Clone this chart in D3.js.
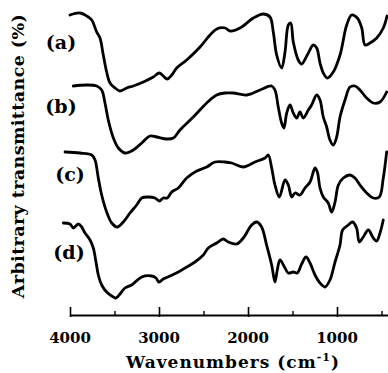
<!DOCTYPE html>
<html><head><meta charset="utf-8">
<script src="https://cdn.jsdelivr.net/npm/d3@7"></script>
<style>body{margin:0;background:#fff}svg{display:block}</style>
</head><body>
<script>
// wavenumber (cm-1), arbitrary transmittance (offset curves)
const waveA = [4000,3888,3812,3756,3700,3663,3626,3588,3551,3494,3438,3363,3289,3176,3064,2997,2952,2907,2857,2801,2689,2539,2427,2352,2258,2202,2090,1940,1828,1753,1716,1678,1622,1584,1547,1520,1491,1435,1397,1334,1266,1228,1191,1154,1109,1042,966,891,835,772,722,685,629,554,480,438];
const transA = [299,301,298,294,282,276,259,242,231,226,223,226,228,232,237,241,238,235,239,246,254,267,279,285,286,283,286,296,300,297,282,259,246,262,289,291,272,254,250,259,269,266,251,241,236,242,259,289,299,296,286,269,271,276,286,298];
const waveB = [3963,3812,3700,3644,3607,3570,3513,3457,3382,3289,3194,3101,3026,2913,2839,2764,2615,2464,2352,2258,2165,2015,1865,1734,1697,1660,1622,1596,1565,1528,1491,1453,1416,1379,1322,1285,1228,1191,1154,1116,1079,1042,1004,966,910,854,798,742,667,592,517,442];
const transB = [228,229,228,224,211,194,176,166,161,164,171,178,177,175,176,184,197,211,219,221,221,219,224,228,224,207,191,186,201,209,201,196,202,196,204,209,219,214,197,187,174,169,177,197,214,227,228,224,216,211,212,222];
const waveC = [4056,3888,3756,3719,3682,3644,3588,3531,3469,3401,3326,3251,3194,3120,3045,2997,2952,2907,2857,2783,2689,2576,2464,2371,2258,2183,2053,1921,1809,1772,1734,1697,1648,1584,1547,1509,1472,1416,1360,1303,1247,1221,1191,1154,1098,1060,1022,985,929,854,798,742,667,592,525,480,442];
const transC = [162,161,159,154,136,119,102,91,87,92,101,109,116,117,116,113,116,116,122,126,136,143,147,152,152,151,147,152,156,159,146,129,117,134,129,117,121,119,126,132,146,142,126,117,111,102,112,129,136,139,136,129,121,116,117,136,162];
const waveD = [4075,4000,3963,3907,3869,3831,3775,3738,3708,3682,3644,3588,3531,3483,3438,3382,3307,3194,3082,3034,3000,2952,2876,2783,2689,2596,2502,2446,2352,2278,2222,2127,2053,1959,1903,1847,1791,1734,1697,1671,1640,1584,1547,1491,1446,1397,1348,1303,1247,1191,1135,1079,1022,966,937,873,825,780,749,705,648,592,554,517,480];
const transD = [91,90,86,90,87,81,74,66,52,39,29,22,18,16,20,26,29,37,38,36,32,35,38,42,47,52,59,66,71,75,72,70,76,89,92,87,69,49,32,44,54,46,41,42,41,50,57,51,39,31,27,34,52,69,84,89,92,86,72,77,84,76,73,81,94];
const seriesLabels = ["(a)","(b)","(c)","(d)"];
const majorTicks = [4000,3000,2000,1000];
const minorTicks = [3500,2500,1500,500];
const xTitle = "Wavenumbers (cm";
const yTitle = "Arbitrary transmittance (%)";

const W = 388, H = 373;
const svg = d3.select("body").append("svg").attr("width", W).attr("height", H);
const x = d3.scaleLinear().domain([4000, 400]).range([70, 390.4]);
const y = d3.scaleLinear().domain([0, 314]).range([314, 0]);

const series = [[waveA, transA],[waveB, transB],[waveC, transC],[waveD, transD]];
const line = d3.line().x(d => x(d[0])).y(d => y(d[1])).curve(d3.curveCatmullRom.alpha(0.5));
series.forEach(([w, t]) => {
  svg.append("path").datum(w.map((v, i) => [v, t[i]]))
    .attr("d", line).attr("fill", "none").attr("stroke", "#000")
    .attr("stroke-width", 2.8).attr("stroke-linejoin", "round").attr("stroke-linecap", "round");
});

const labelPos = [[61, 42], [61, 106], [70, 174], [69, 252]];
seriesLabels.forEach((s, i) => {
  svg.append("text").attr("x", labelPos[i][0]).attr("y", labelPos[i][1]).attr("dy", "0.35em")
    .attr("text-anchor", "middle").attr("font-family", "DejaVu Serif").attr("font-weight", "bold")
    .attr("font-size", 19).text(s);
});

const axisY = 315;
const ax = svg.append("g").attr("transform", `translate(0,${axisY})`)
  .call(d3.axisBottom(x).tickValues(majorTicks).tickSizeInner(-8).tickSizeOuter(0).tickFormat(""));
ax.select(".domain").attr("stroke-width", 2).attr("stroke", "#000");
ax.selectAll(".tick line").attr("stroke-width", 1.6).attr("y1", 2);
const ax2 = svg.append("g").attr("transform", `translate(0,${axisY})`)
  .call(d3.axisBottom(x).tickValues(minorTicks).tickSizeInner(-4).tickSizeOuter(0).tickFormat(""));
ax2.select(".domain").remove();
ax2.selectAll(".tick line").attr("stroke-width", 1.4);

majorTicks.forEach(t => {
  svg.append("text").attr("x", x(t)).attr("y", 343).attr("text-anchor", "middle")
    .attr("font-family", "DejaVu Serif").attr("font-weight", "bold").attr("font-size", 15).text(t);
});

const xt = svg.append("text").attr("x", 233).attr("y", 368).attr("text-anchor", "middle")
  .attr("font-family", "DejaVu Serif").attr("font-weight", "bold").attr("font-size", 17)
  .attr("letter-spacing", 1);
xt.append("tspan").text(xTitle);
xt.append("tspan").attr("font-size", 11).attr("dy", -7).text("-1");
xt.append("tspan").attr("dy", 7).text(")");

svg.append("text").attr("transform", "translate(24,156) rotate(-90)").attr("text-anchor", "middle")
  .attr("font-family", "DejaVu Serif").attr("font-weight", "bold").attr("font-size", 17.5)
  .attr("letter-spacing", 0.4).text(yTitle);
</script>
</body></html>
